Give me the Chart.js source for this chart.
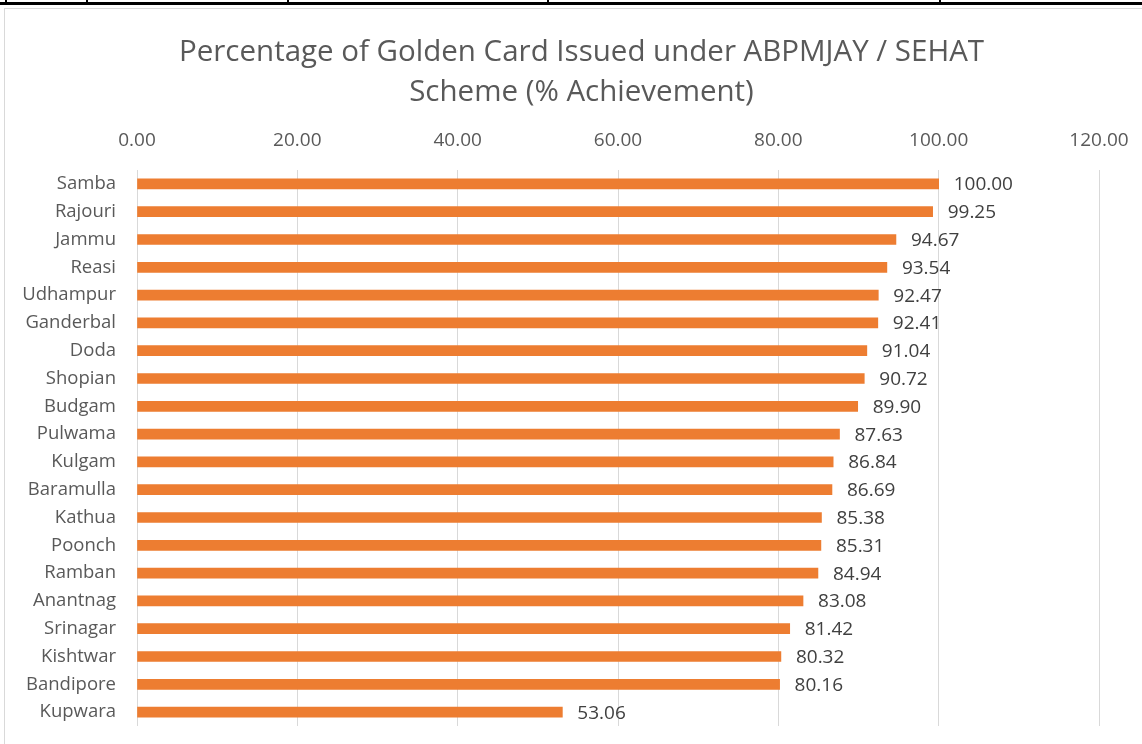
<!DOCTYPE html>
<html>
<head>
<meta charset="utf-8">
<script src="https://cdn.jsdelivr.net/npm/chart.js@4"></script>
<style>
  html, body { margin: 0; padding: 0; background: #fff; }
  #wrap { position: absolute; left: 0; top: 0; width: 1142px; height: 744px; }
</style>
</head>
<body>
<div id="wrap"><canvas id="myChart" width="1142" height="744"></canvas></div>
<script>
const districts = ["Samba", "Rajouri", "Jammu", "Reasi", "Udhampur", "Ganderbal", "Doda", "Shopian", "Budgam", "Pulwama",
    "Kulgam", "Baramulla", "Kathua", "Poonch", "Ramban", "Anantnag", "Srinagar", "Kishtwar", "Bandipore", "Kupwara"];
const achievement = [100.00, 99.25, 94.67, 93.54, 92.47, 92.41, 91.04, 90.72, 89.90, 87.63,
    86.84, 86.69, 85.38, 85.31, 84.94, 83.08, 81.42, 80.32, 80.16, 53.06];
const axisMin = 0;
const axisMax = 120;
const axisStep = 20;
const titleLines = ["Percentage of Golden Card Issued under ABPMJAY / SEHAT", "Scheme (% Achievement)"];

const fontFamily = "'Open Sans', sans-serif";
const titleSize = 29.5;
const titleLineHeight = 1.38;
const titlePadTop = 32;
const leftPad = 21;

// page frame: table border on top and the light chart border
const framePlugin = {
    id: 'frame',
    beforeDraw(chart) {
        const ctx = chart.ctx;
        ctx.save();
        ctx.fillStyle = '#000';
        ctx.fillRect(0, 2, 1142, 3);
        [6, 87, 288, 548, 940].forEach(x => ctx.fillRect(x - 1, 0, 2, 3));
        ctx.strokeStyle = '#d9d9d9';
        ctx.lineWidth = 1;
        ctx.strokeRect(4.5, 8.5, 1150, 760);
        ctx.restore();
    }
};

// value labels at the end of each bar
const valueLabels = {
    id: 'valueLabels',
    afterDatasetsDraw(chart) {
        const ctx = chart.ctx;
        const meta = chart.getDatasetMeta(0);
        ctx.save();
        ctx.font = "19px " + fontFamily;
        ctx.fillStyle = '#404040';
        ctx.textAlign = 'left';
        ctx.textBaseline = 'middle';
        meta.data.forEach((bar, i) => {
            ctx.fillText(achievement[i].toFixed(2), bar.x + 15, bar.y + 1);
        });
        ctx.restore();
    }
};

const ctx = document.getElementById('myChart').getContext('2d');
new Chart(ctx, {
    type: 'bar',
    data: {
        labels: districts,
        datasets: [{
            label: '% Achievement',
            data: achievement,
            backgroundColor: '#ED7D31',
            borderWidth: 0,
            barThickness: 10
        }]
    },
    options: {
        indexAxis: 'y',
        responsive: false,
        animation: false,
        layout: {
            padding: { left: leftPad, right: 0, top: 0, bottom: 18 }
        },
        plugins: {
            legend: { display: false },
            tooltip: { enabled: false },
            title: {
                display: true,
                text: titleLines,
                color: '#595959',
                font: { family: fontFamily, size: titleSize, weight: 'normal', lineHeight: titleLineHeight },
                padding: { top: titlePadTop, bottom: 0 }
            }
        },
        scales: {
            x: {
                position: 'top',
                min: axisMin,
                max: axisMax,
                ticks: {
                    stepSize: axisStep,
                    color: '#595959',
                    font: { family: fontFamily, size: 19 },
                    padding: 18,
                    callback: v => Number(v).toFixed(2)
                },
                grid: { color: '#d9d9d9', drawTicks: false },
                border: { display: false },
                afterFit: scale => {
                    scale.height = 170 - (titlePadTop + 2 * titleSize * titleLineHeight);
                    scale.paddingLeft = 0;
                    scale.paddingRight = 43;
                }
            },
            y: {
                ticks: {
                    color: '#595959',
                    font: { family: fontFamily, size: 18.5 },
                    padding: 21,
                    autoSkip: false
                },
                grid: { display: false, drawTicks: false },
                border: { display: false },
                afterFit: scale => {
                    scale.width = 137 - leftPad;
                    scale.paddingTop = 0;
                    scale.paddingBottom = 0;
                }
            }
        }
    },
    plugins: [framePlugin, valueLabels]
});
</script>
</body>
</html>
